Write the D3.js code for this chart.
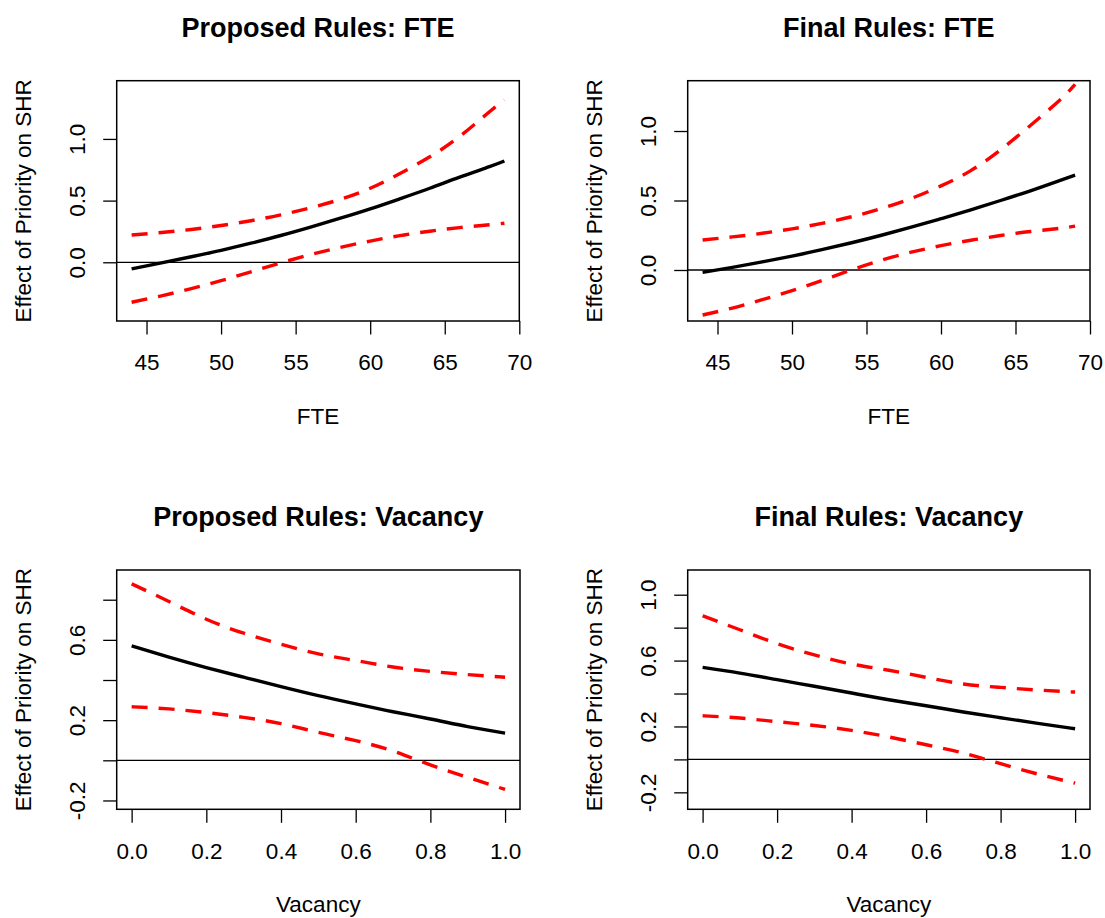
<!DOCTYPE html>
<html>
<head>
<meta charset="utf-8">
<script src="https://cdn.jsdelivr.net/npm/d3@7"></script>
<style>
  body { margin: 0; background: #fff; }
  svg text { font-family: "Liberation Sans", Arial, Helvetica, sans-serif; fill: #000; }
</style>
</head>
<body>
<svg></svg>
<script>
var width = 1105;
var height = 918;

// ---- data ----
var fteGrid = [44, 46, 48, 50, 52, 54, 56, 58, 60, 62, 64, 66, 68, 69];
var propFteFit   = [-0.054, -0.005, 0.045, 0.097, 0.155, 0.217, 0.285, 0.357, 0.433, 0.515, 0.600, 0.690, 0.775, 0.821];
var propFteUpper = [0.221, 0.241, 0.266, 0.298, 0.337, 0.385, 0.442, 0.510, 0.600, 0.720, 0.855, 1.020, 1.220, 1.315];
var propFteLower = [-0.324, -0.272, -0.214, -0.149, -0.078, -0.005, 0.062, 0.121, 0.172, 0.216, 0.252, 0.281, 0.304, 0.316];

var finFteFit   = [-0.017, 0.019, 0.058, 0.100, 0.146, 0.196, 0.250, 0.308, 0.369, 0.433, 0.500, 0.570, 0.645, 0.683];
var finFteUpper = [0.216, 0.238, 0.264, 0.296, 0.335, 0.383, 0.442, 0.515, 0.605, 0.715, 0.865, 1.040, 1.225, 1.335];
var finFteLower = [-0.324, -0.274, -0.214, -0.148, -0.076, 0.001, 0.071, 0.128, 0.175, 0.214, 0.248, 0.277, 0.300, 0.316];

var vacGrid = [0, 0.1, 0.2, 0.3, 0.4, 0.5, 0.6, 0.7, 0.8, 0.9, 1.0];
var propVacFit   = [0.570, 0.514, 0.462, 0.414, 0.367, 0.322, 0.281, 0.242, 0.206, 0.168, 0.135];
var propVacUpper = [0.879, 0.791, 0.703, 0.633, 0.578, 0.530, 0.497, 0.465, 0.443, 0.427, 0.414];
var propVacLower = [0.267, 0.256, 0.238, 0.214, 0.183, 0.139, 0.098, 0.046, -0.023, -0.085, -0.145];

var finVacFit   = [0.559, 0.524, 0.484, 0.444, 0.403, 0.362, 0.326, 0.288, 0.253, 0.219, 0.186];
var finVacUpper = [0.872, 0.787, 0.703, 0.634, 0.579, 0.541, 0.498, 0.458, 0.437, 0.421, 0.409];
var finVacLower = [0.265, 0.251, 0.229, 0.206, 0.176, 0.136, 0.089, 0.038, -0.026, -0.089, -0.144];

var fteTicks = [45, 50, 55, 60, 65, 70];
var vacTicks = [0, 0.2, 0.4, 0.6, 0.8, 1.0];

var panels = [
  { title: "Proposed Rules: FTE", xlab: "FTE", xs: fteGrid, fit: propFteFit, up: propFteUpper, lo: propFteLower,
    xdom: [43, 70], ydom: [-0.476, 1.472], xticks: fteTicks, yticks: [0, 0.5, 1.0], ylabels: [0, 0.5, 1.0],
    box: [116.7, 80.7, 519.3, 321] },
  { title: "Final Rules: FTE", xlab: "FTE", xs: fteGrid, fit: finFteFit, up: finFteUpper, lo: finFteLower,
    xdom: [43, 70], ydom: [-0.367, 1.362], xticks: fteTicks, yticks: [0, 0.5, 1.0], ylabels: [0, 0.5, 1.0],
    box: [687.7, 80.7, 1090, 321] },
  { title: "Proposed Rules: Vacancy", xlab: "Vacancy", xs: vacGrid, fit: propVacFit, up: propVacUpper, lo: propVacLower,
    xdom: [-0.04, 1.04], ydom: [-0.244, 0.948], xticks: vacTicks, yticks: [-0.2, 0, 0.2, 0.4, 0.6, 0.8], ylabels: [-0.2, 0.2, 0.6],
    box: [116.7, 570, 520, 809.3] },
  { title: "Final Rules: Vacancy", xlab: "Vacancy", xs: vacGrid, fit: finVacFit, up: finVacUpper, lo: finVacLower,
    xdom: [-0.04, 1.04], ydom: [-0.303, 1.150], xticks: vacTicks, yticks: [-0.2, 0, 0.2, 0.4, 0.6, 0.8, 1.0], ylabels: [-0.2, 0.2, 0.6, 1.0],
    box: [687.7, 570, 1090, 809.3] }
];

var svg = d3.select("svg")
  .attr("width", width)
  .attr("height", height);

var fontSize = 22.5;
var tickLen = 13.5;

panels.forEach(function(p) {
  var x0 = p.box[0], y0 = p.box[1], x1 = p.box[2], y1 = p.box[3];
  var x = d3.scaleLinear().domain(p.xdom).range([x0, x1]);
  var y = d3.scaleLinear().domain(p.ydom).range([y1, y0]);
  var g = svg.append("g");

  // zero reference line
  g.append("line")
    .attr("x1", x0).attr("x2", x1)
    .attr("y1", y(0)).attr("y2", y(0))
    .attr("stroke", "#000").attr("stroke-width", 1.3);

  var line = d3.line()
    .x(function(d) { return x(d[0]); })
    .y(function(d) { return y(d[1]); })
    .curve(d3.curveNatural);

  var zipped = function(vals) { return p.xs.map(function(v, i) { return [v, vals[i]]; }); };

  [p.up, p.lo].forEach(function(vals) {
    g.append("path")
      .attr("d", line(zipped(vals)))
      .attr("fill", "none")
      .attr("stroke", "#ff0000")
      .attr("stroke-width", 3.4)
      .attr("stroke-dasharray", "16,11");
  });

  g.append("path")
    .attr("d", line(zipped(p.fit)))
    .attr("fill", "none")
    .attr("stroke", "#000")
    .attr("stroke-width", 3.4);

  // box
  g.append("rect")
    .attr("x", x0).attr("y", y0)
    .attr("width", x1 - x0).attr("height", y1 - y0)
    .attr("fill", "none").attr("stroke", "#000").attr("stroke-width", 1.5);

  // x axis
  var xa = g.append("g")
    .attr("transform", "translate(0," + y1 + ")")
    .call(d3.axisBottom(x).tickValues(p.xticks).tickSize(tickLen)
      .tickFormat(function(d) { return p.xlab == "FTE" ? String(d) : d.toFixed(1); }));
  xa.select(".domain").remove();
  xa.selectAll(".tick line").attr("stroke", "#000").attr("stroke-width", 1.3);
  xa.selectAll(".tick text")
    .attr("y", 49.3).attr("dy", 0)
    .style("font-size", fontSize + "px");

  // y axis
  var ya = g.append("g")
    .attr("transform", "translate(" + x0 + ",0)")
    .call(d3.axisLeft(y).tickValues(p.yticks).tickSize(tickLen)
      .tickFormat(function(d) {
        var shown = p.ylabels.some(function(v) { return Math.abs(v - d) < 1e-9; });
        return shown ? d.toFixed(1) : "";
      }));
  ya.select(".domain").remove();
  ya.selectAll(".tick line").attr("stroke", "#000").attr("stroke-width", 1.3);
  ya.selectAll(".tick text")
    .attr("x", 0).attr("y", 0).attr("dy", 0)
    .attr("text-anchor", "middle")
    .attr("transform", "translate(-31.5,0) rotate(-90)")
    .style("font-size", fontSize + "px");

  // titles and labels
  g.append("text")
    .attr("x", (x0 + x1) / 2).attr("y", y0 - 44)
    .attr("text-anchor", "middle")
    .style("font-size", "27px").style("font-weight", "bold")
    .text(p.title);

  g.append("text")
    .attr("x", (x0 + x1) / 2).attr("y", y1 + 102.6)
    .attr("text-anchor", "middle")
    .style("font-size", fontSize + "px")
    .text(p.xlab);

  g.append("text")
    .attr("transform", "translate(" + (x0 - 86) + "," + ((y0 + y1) / 2) + ") rotate(-90)")
    .attr("text-anchor", "middle")
    .style("font-size", fontSize + "px")
    .text("Effect of Priority on SHR");
});
</script>
</body>
</html>
